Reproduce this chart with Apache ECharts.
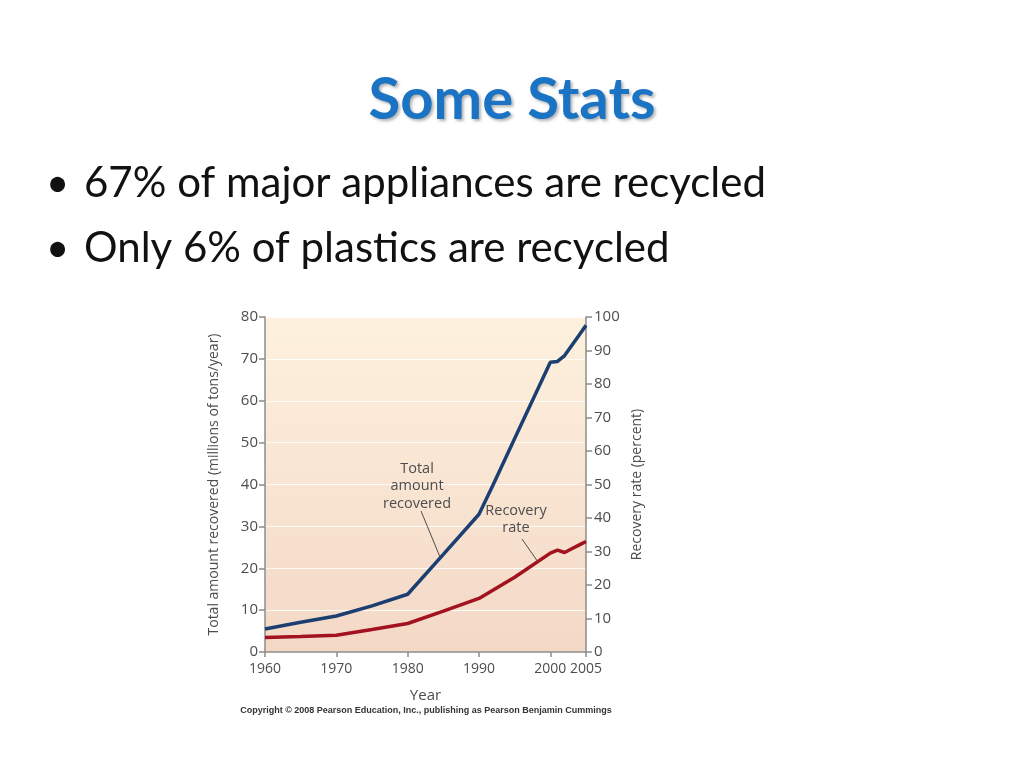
<!DOCTYPE html>
<html>
<head>
<meta charset="utf-8">
<script src="https://cdn.jsdelivr.net/npm/echarts@6/dist/echarts.min.js"></script>
<style>
html,body{margin:0;padding:0;background:#fff;}
#c{width:1024px;height:768px;}
</style>
</head>
<body>
<div id="c"></div>
<script>
const years = [1960, 1965, 1970, 1975, 1980, 1985, 1990, 1992, 1995, 2000, 2001, 2002, 2003, 2004, 2005];
const totalRecovered = [5.5, 7.1, 8.6, 11.0, 13.8, 23.3, 32.9, 40.0, 51.0, 69.2, 69.4, 70.8, 73.2, 75.6, 78.0];
const recoveryRate = [4.3, 4.6, 5.0, 6.7, 8.5, 12.2, 16.0, 18.5, 22.3, 29.5, 30.4, 29.7, 30.8, 31.9, 33.0];
const xTicks = [1960, 1970, 1980, 1990, 2000, 2005];
const bullets = ["67% of major appliances are recycled", "Only 6% of plastics are recycled"];

const chart = echarts.init(document.getElementById('c'), null, {renderer: 'canvas'});
const font = "'Open Sans', 'DejaVu Sans', sans-serif";
const slideFont = "Lato, 'Open Sans', sans-serif";
const axisColor = '#8c8c8c';
const labelColor = '#4d4d4d';

const option = {
  backgroundColor: '#ffffff',
  animation: false,
  title: {
    text: 'Some Stats',
    left: 'center',
    top: 66,
    textStyle: {
      fontFamily: slideFont, fontWeight: 'bold', fontSize: 58, color: '#1b73c4',
      textShadowColor: 'rgba(0,0,0,0.3)', textShadowBlur: 3, textShadowOffsetX: 2, textShadowOffsetY: 2
    }
  },
  grid: {
    left: 265, right: 438, top: 317, bottom: 116,
    show: true, borderWidth: 0,
    backgroundColor: new echarts.graphic.LinearGradient(0, 0, 0, 1, [
      {offset: 0, color: '#fdf1de'},
      {offset: 1, color: '#f4d8c6'}
    ])
  },
  xAxis: {
    type: 'value', min: 1960, max: 2005,
    name: 'Year', nameLocation: 'middle', nameGap: 36,
    nameTextStyle: {fontFamily: font, fontSize: 15, color: labelColor},
    axisLine: {show: true, lineStyle: {color: axisColor, width: 1.5}},
    axisTick: {show: true, length: 5, customValues: xTicks, lineStyle: {color: axisColor, width: 1.5}},
    axisLabel: {customValues: xTicks, formatter: v => String(v), fontFamily: font, fontSize: 14, color: labelColor, margin: 10, showMinLabel: true, showMaxLabel: true, hideOverlap: false},
    splitLine: {show: false}
  },
  yAxis: [
    {
      type: 'value', min: 0, max: 80, interval: 10, position: 'left',
      name: 'Total amount recovered (millions of tons/year)', nameLocation: 'middle', nameGap: 44,
      nameTextStyle: {fontFamily: font, fontSize: 14, color: labelColor},
      axisLine: {show: true, lineStyle: {color: axisColor, width: 1.5}},
      axisTick: {show: true, length: 6, lineStyle: {color: axisColor, width: 1.5}},
      axisLabel: {fontFamily: font, fontSize: 15, color: labelColor, margin: 7},
      splitLine: {show: true, lineStyle: {color: 'rgba(255,255,255,0.85)', width: 1}}
    },
    {
      type: 'value', min: 0, max: 100, interval: 10, position: 'right',
      name: 'Recovery rate (percent)', nameLocation: 'middle', nameGap: 44, nameRotate: 90,
      nameTextStyle: {fontFamily: font, fontSize: 14, color: labelColor},
      axisLine: {show: true, lineStyle: {color: axisColor, width: 1.5}},
      axisTick: {show: true, length: 6, lineStyle: {color: axisColor, width: 1.5}},
      axisLabel: {fontFamily: font, fontSize: 15, color: labelColor, margin: 8},
      splitLine: {show: false}
    }
  ],
  series: [
    {
      name: 'Total amount recovered', type: 'line', yAxisIndex: 0,
      data: years.map((y, i) => [y, totalRecovered[i]]),
      showSymbol: false, symbol: 'none',
      lineStyle: {color: '#1c3f72', width: 3.5}, z: 3
    },
    {
      name: 'Recovery rate', type: 'line', yAxisIndex: 1,
      data: years.map((y, i) => [y, recoveryRate[i]]),
      showSymbol: false, symbol: 'none',
      lineStyle: {color: '#a3121f', width: 3.5}, z: 3
    }
  ],
  graphic: [
    {type: 'text', left: 46, top: 164, style: {text: '•', font: "40px " + slideFont, fill: '#111'}},
    {type: 'text', left: 84, top: 162, style: {text: bullets[0], font: "42px " + slideFont, fill: '#111'}},
    {type: 'text', left: 46, top: 229, style: {text: '•', font: "40px " + slideFont, fill: '#111'}},
    {type: 'text', left: 84, top: 227, style: {text: bullets[1], font: "42px " + slideFont, fill: '#111'}},
    {type: 'text', x: 417, y: 460, style: {text: 'Total\namount\nrecovered', font: "14.5px " + font, fill: '#4d4d4d', align: 'center', verticalAlign: 'top', lineHeight: 17.5}, z: 10},
    {type: 'line', shape: {x1: 421, y1: 511, x2: 440, y2: 557}, style: {stroke: '#4d4d4d', lineWidth: 1}, z: 10},
    {type: 'text', x: 516, y: 502, style: {text: 'Recovery\nrate', font: "14.5px " + font, fill: '#4d4d4d', align: 'center', verticalAlign: 'top', lineHeight: 17.5}, z: 10},
    {type: 'line', shape: {x1: 522, y1: 539, x2: 538, y2: 562}, style: {stroke: '#4d4d4d', lineWidth: 1}, z: 10},
    {type: 'text', x: 426, y: 711, style: {text: 'Copyright \u00a9 2008 Pearson Education, Inc., publishing as Pearson Benjamin Cummings', font: "bold 9px 'Liberation Sans', Arial, sans-serif", fill: '#333', align: 'center', verticalAlign: 'middle'}, z: 10}
  ]
};
chart.setOption(option);
</script>
</body>
</html>
